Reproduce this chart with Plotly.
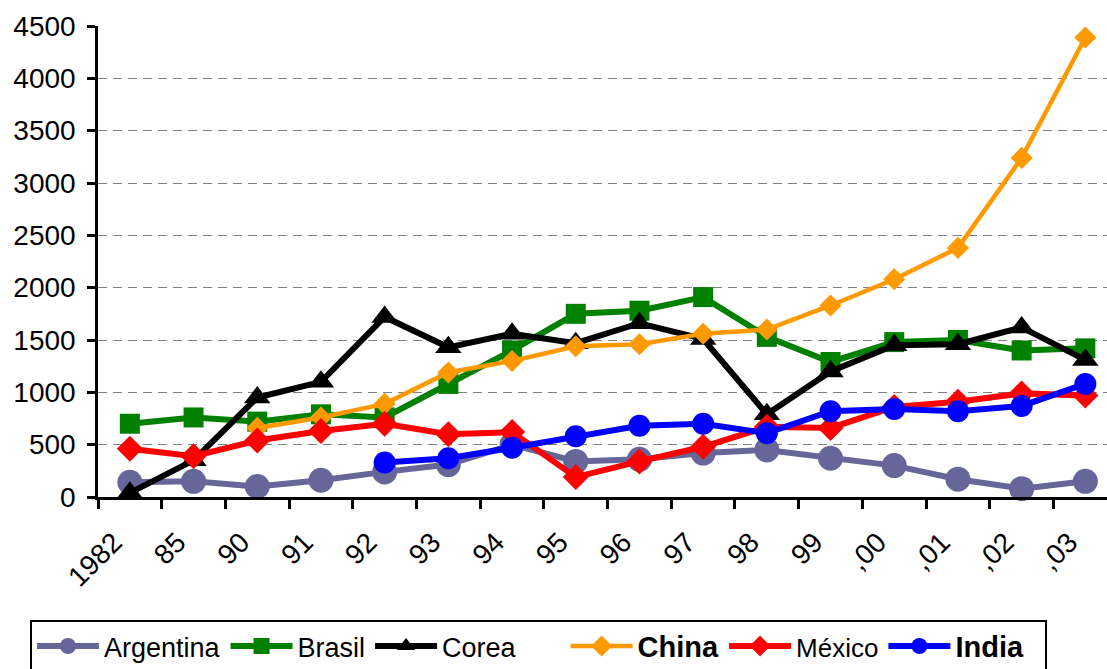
import plotly.graph_objects as go

years = ["1982", "85", "90", "91", "92", "93", "94", "95", "96", "97",
         "98", "99", ",00", ",01", ",02", ",03"]

argentina = [140, 150, 100, 160, 240, 310, 500, 340, 360, 420, 450, 370, 300, 170, 80, 150]
brasil = [700, 760, 720, 790, 760, 1080, 1400, 1750, 1780, 1910, 1530, 1290, 1480, 1500, 1400, 1420]
corea = [40, 350, 950, 1100, 1720, 1430, 1560, 1470, 1660, 1510, 790, 1200, 1450, 1460, 1620, 1310]
china = [None, None, 660, 760, 890, 1190, 1300, 1440, 1460, 1560, 1600, 1830, 2080, 2380, 3240, 4390]
mexico = [460, 390, 540, 630, 700, 600, 620, 190, 340, 480, 670, 660, 860, 910, 990, 970]
india = [None, None, None, None, 330, 370, 470, 580, 680, 700, 610, 820, 840, 820, 870, 1080]

NB = "\u00a0"
series = [
    ("Argentina", argentina, "#666699", "circle", 25, 6),
    ("Brasil", brasil, "#008000", "square", 20, 6),
    ("Corea" + NB * 6, corea, "#000000", "triangle-up", 23, 6),
    ("<span style='font-size:29px'><b>China</b></span>", china, "#FF9900", "diamond", 17, 4.5),
    ("<span style='font-size:26px'>México</span>", mexico, "#FF0000", "diamond", 20, 6),
    ("<span style='font-size:29px'><b>India</b>" + NB * 2 + "</span>", india, "#0000FF", "circle", 22, 6),
]

fig = go.Figure()
for name, vals, color, symbol, msize, lw in series:
    fig.add_trace(go.Scatter(
        x=years, y=vals, name=name, mode="lines+markers",
        line=dict(color=color, width=lw),
        marker=dict(symbol=symbol, size=msize, color=color, line=dict(width=0)),
        cliponaxis=False,
    ))

fig.update_layout(
    width=1107, height=669,
    margin=dict(l=98, r=0, t=26, b=172, autoexpand=False),
    paper_bgcolor="white", plot_bgcolor="white",
    font=dict(family="Arial, Liberation Sans", size=28, color="black"),
    showlegend=True,
    legend=dict(
        orientation="h", x=-0.0674, xanchor="left", y=-0.261, yanchor="top",
        bordercolor="black", borderwidth=2, bgcolor="white",
        font=dict(size=27), itemwidth=62,
    ),
)
fig.update_xaxes(
    type="category", range=[-0.5, 15.34], automargin=False,
    tickson="boundaries", ticks="outside", ticklen=9, tickwidth=2.5, tickcolor="black",
    showline=True, linecolor="black", linewidth=2.5,
    showgrid=False, tickangle=-45, tickfont=dict(size=28),
    ticklabelstandoff=15, ticklabelshift=-16,
)
fig.update_yaxes(
    range=[0, 4500], tick0=0, dtick=500, automargin=False,
    ticks="outside", ticklen=8, tickwidth=2.5, tickcolor="black",
    showline=True, linecolor="black", linewidth=2.5,
    showgrid=True, gridcolor="#808080", gridwidth=1.2, griddash="9px,6px",
    zeroline=False, tickfont=dict(size=28), ticklabelstandoff=6,
)

fig.write_html("out.html")
